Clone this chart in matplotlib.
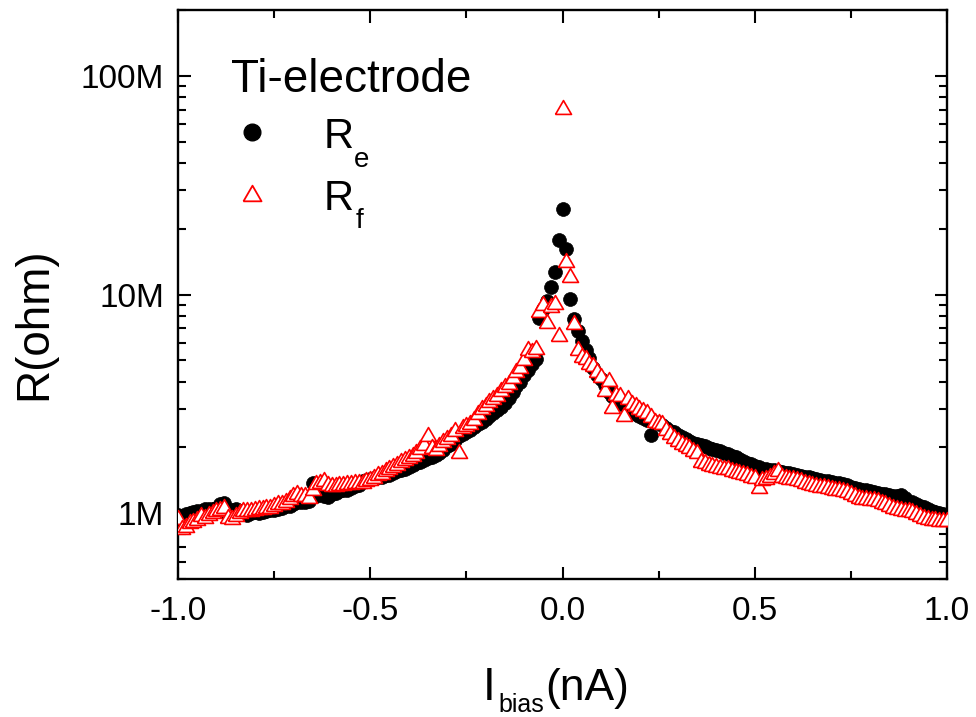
import numpy as np
import matplotlib
matplotlib.use("Agg")
import matplotlib.pyplot as plt
from matplotlib.ticker import LogLocator, NullFormatter, FixedLocator, MultipleLocator

plt.rcParams['font.family'] = ['Liberation Sans', 'DejaVu Sans']

# ---------------- data (R in M-ohm, I_bias in nA) ----------------
I_bias = np.round(np.arange(-100, 101) / 100.0, 2)

R_e = [
    0.98, 0.97, 0.99, 1.00, 1.01, 1.02, 1.02, 1.04, 1.05, 1.04,
    1.06, 1.10, 1.11, 0.98, 1.03, 1.05, 1.02, 1.00, 0.98, 1.00,
    1.01, 1.00, 1.01, 1.02, 1.03, 1.03, 1.05, 1.06, 1.08, 1.08,
    1.10, 1.12, 1.13, 1.12, 1.14, 1.38, 1.20, 1.22, 1.20, 1.18,
    1.22, 1.24, 1.26, 1.27, 1.28, 1.31, 1.33, 1.35, 1.40, 1.42,
    1.44, 1.45, 1.46, 1.47, 1.49, 1.50, 1.53, 1.56, 1.58, 1.60,
    1.63, 1.66, 1.69, 1.72, 1.75, 1.78, 1.81, 1.84, 1.88, 1.94,
    2.02, 2.08, 2.15, 2.25, 2.30, 2.35, 2.40, 2.48, 2.55, 2.62,
    2.70, 2.78, 2.86, 2.95, 3.05, 3.20, 3.35, 3.60, 3.80, 4.00,
    4.30, 4.50, 4.80, 5.05, 7.80, 8.60, 9.30, 10.8, 12.7, 17.7,
    24.5,
    16.2, 9.5, 7.7, 6.8, 6.1, 5.6, 5.1, 4.6, 4.3, 4.1,
    3.85, 3.6, 3.45, 3.3, 3.2, 3.12, 3.02, 2.95, 2.85, 2.78,
    2.72, 2.68, 2.28, 2.62, 2.58, 2.52, 2.45, 2.38, 2.34, 2.28,
    2.22, 2.18, 2.14, 2.10, 2.07, 2.05, 2.02, 1.99, 1.96, 1.94,
    1.93, 1.89, 1.86, 1.83, 1.80, 1.76, 1.73, 1.70, 1.67, 1.64,
    1.62, 1.60, 1.59, 1.58, 1.57, 1.56, 1.55, 1.53, 1.52, 1.51,
    1.50, 1.48, 1.47, 1.46, 1.45, 1.43, 1.42, 1.41, 1.40, 1.39,
    1.38, 1.37, 1.36, 1.34, 1.32, 1.30, 1.29, 1.28, 1.27, 1.26,
    1.25, 1.24, 1.23, 1.22, 1.21, 1.20, 1.20, 1.21, 1.17, 1.13,
    1.12, 1.10, 1.08, 1.07, 1.05, 1.02, 1.01, 1.00, 0.99, 0.98,
]

R_f = [
    0.96, 0.86, 0.88, 0.92, 0.93, 0.95, 0.99, 0.97, 1.00, 1.02,
    1.04, 1.06, 1.08, 0.97, 0.96, 0.99, 1.02, 1.04, 1.04, 1.05,
    1.06, 1.07, 1.07, 1.08, 1.08, 1.10, 1.12, 1.13, 1.15, 1.18,
    1.22, 1.25, 1.23, 1.22, 1.20, 1.30, 1.39, 1.41, 1.43, 1.38,
    1.36, 1.36, 1.37, 1.38, 1.39, 1.39, 1.40, 1.40, 1.41, 1.43,
    1.45, 1.48, 1.52, 1.55, 1.60, 1.63, 1.66, 1.70, 1.75, 1.79,
    1.82, 1.86, 1.92, 2.00, 2.10, 2.30, 2.02, 1.98, 2.08, 2.15,
    2.22, 2.30, 2.42, 1.92, 2.50, 2.55, 2.62, 2.72, 2.90, 3.05,
    3.15, 3.30, 3.40, 3.50, 3.70, 3.85, 4.00, 4.25, 4.50, 4.70,
    5.10, 5.70, 5.60, 5.75, 8.50, 9.10, 7.60, 9.00, 9.20, 6.60,
    72.0,
    14.4, 12.3, 7.5, 5.7, 5.3, 5.2, 4.9, 4.8, 4.5, 4.3,
    3.68, 4.1, 3.08, 3.55, 3.5, 2.83, 3.4, 3.24, 3.15, 3.05,
    2.98, 2.92, 2.80, 2.68, 2.63, 2.60, 2.45, 2.35, 2.26, 2.18,
    2.12, 2.07, 2.02, 1.96, 1.92, 1.75, 1.73, 1.70, 1.67, 1.66,
    1.65, 1.63, 1.62, 1.60, 1.58, 1.56, 1.54, 1.52, 1.50, 1.48,
    1.33, 1.45, 1.46, 1.50, 1.55, 1.59, 1.50, 1.48, 1.47, 1.46,
    1.45, 1.43, 1.41, 1.39, 1.38, 1.36, 1.35, 1.34, 1.33, 1.32,
    1.31, 1.30, 1.29, 1.27, 1.25, 1.22, 1.20, 1.19, 1.18, 1.17,
    1.17, 1.16, 1.14, 1.12, 1.10, 1.08, 1.07, 1.06, 1.05, 1.04,
    1.03, 1.01, 0.99, 0.97, 0.96, 0.95, 0.95, 0.94, 0.94, 0.94,
]

x_ticks = [-1.0, -0.5, 0.0, 0.5, 1.0]
x_ticklabels = ['-1.0', '-0.5', '0.0', '0.5', '1.0']
y_ticks = [1, 10, 100]
y_ticklabels = ['1M', '10M', '100M']

# ---------------- figure ----------------
W, H = 976, 717
fig = plt.figure(figsize=(W / 100, H / 100), dpi=100)
L, R, T, B = 178, 947, 10, 579
ax = fig.add_axes([L / W, 1 - B / H, (R - L) / W, (B - T) / H])

tri = [(-1, -0.866), (1, -0.866), (0, 0.866), (-1, -0.866)]

ax.plot(I_bias, R_e, linestyle='none', marker='o', ms=10,
        mfc='black', mec='black', mew=0.5, zorder=2)
ax.plot(I_bias, R_f, linestyle='none', marker=tri, ms=11.5,
        mfc='white', mec='#ff0000', mew=1.2, zorder=3)

ax.set_yscale('log')
ax.set_xlim(-1.0, 1.0)
ax.set_ylim(0.5, 200)

ax.set_xticks(x_ticks)
ax.set_xticklabels(x_ticklabels)
ax.xaxis.set_minor_locator(MultipleLocator(0.25))
ax.yaxis.set_major_locator(FixedLocator(y_ticks))
ax.set_yticklabels(y_ticklabels)
ax.yaxis.set_minor_locator(LogLocator(base=10, subs=np.arange(2, 10)))
ax.yaxis.set_minor_formatter(NullFormatter())

for s in ax.spines.values():
    s.set_linewidth(1.7)

ax.tick_params(which='both', direction='in', top=True, right=True,
               width=1.5)
ax.tick_params(which='major', length=9, labelsize=24)
ax.tick_params(axis='x', which='major', pad=12)
ax.tick_params(axis='y', which='major', pad=10)
ax.tick_params(which='minor', length=5.5)

# y label
ax.set_ylabel('R(ohm)', fontsize=33, va='center')
ax.yaxis.set_label_coords((34 - L) / (R - L), (B - 324) / (B - T))

# x label: I_bias(nA)
def axx(px):
    return (px - L) / (R - L)

def axy(py):
    return (B - py) / (B - T)

ax.text(axx(483), axy(700), 'I', fontsize=33, transform=ax.transAxes,
        va='baseline', ha='left', clip_on=False)
ax.text(axx(498), axy(712), 'bias', fontsize=18, transform=ax.transAxes,
        va='baseline', ha='left', clip_on=False)
ax.text(axx(545), axy(700), '(nA)', fontsize=32, transform=ax.transAxes,
        va='baseline', ha='left', clip_on=False)

# legend (drawn manually to match subscript layout)
ax.text(axx(231), axy(92), 'Ti-electrode', fontsize=33,
        transform=ax.transAxes, va='baseline', ha='left')
ax.plot([axx(252)], [axy(132)], transform=ax.transAxes, marker='o', ms=12,
        mfc='black', mec='black', linestyle='none', clip_on=False)
ax.plot([axx(252)], [axy(193)], transform=ax.transAxes, marker=tri, ms=13,
        mfc='white', mec='#ff0000', mew=1.3, linestyle='none', clip_on=False)
ax.text(axx(324), axy(148), 'R', fontsize=30, transform=ax.transAxes,
        va='baseline', ha='left')
ax.text(axx(354), axy(167), 'e', fontsize=20, transform=ax.transAxes,
        va='baseline', ha='left')
ax.text(axx(324), axy(210), 'R', fontsize=30, transform=ax.transAxes,
        va='baseline', ha='left')
ax.text(axx(356), axy(228), 'f', fontsize=20, transform=ax.transAxes,
        va='baseline', ha='left')

fig.savefig('out.png', dpi=100)
